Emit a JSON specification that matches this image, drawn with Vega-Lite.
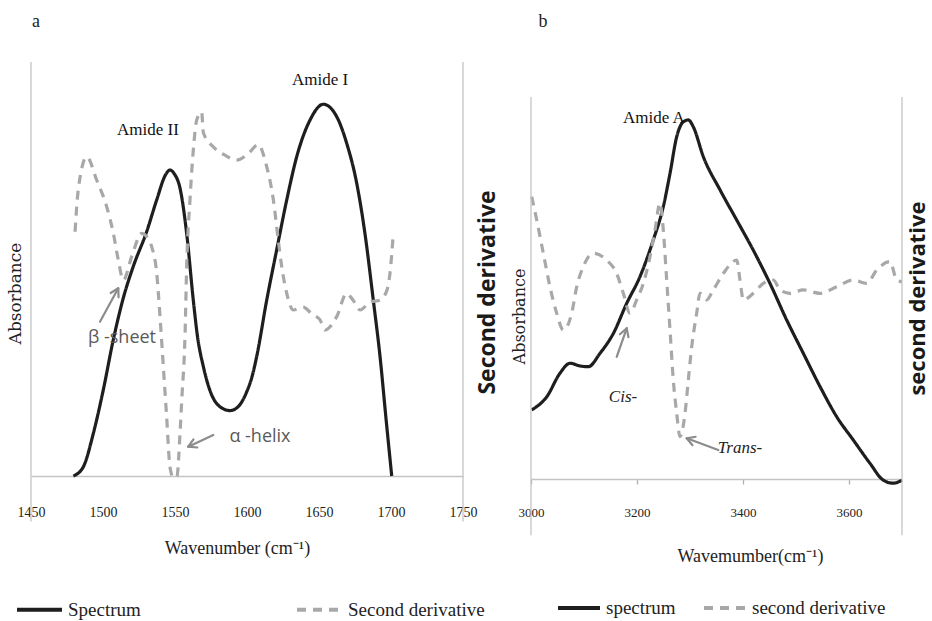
{
  "$schema": "https://vega.github.io/schema/vega-lite/v6.json",
  "width": 932,
  "height": 621,
  "autosize": {"type": "none"},
  "padding": 0,
  "background": "white",
  "config": {"view": {"stroke": null}, "axis": {"grid": false}},
  "datasets": {
    "specA": [
      {"series": "Spectrum", "wn": 1479.4, "val": 0},
      {"series": "Spectrum", "wn": 1486.3, "val": 0.022},
      {"series": "Spectrum", "wn": 1493.3, "val": 0.103},
      {"series": "Spectrum", "wn": 1500.2, "val": 0.208},
      {"series": "Spectrum", "wn": 1507.2, "val": 0.33},
      {"series": "Spectrum", "wn": 1514.1, "val": 0.43},
      {"series": "Spectrum", "wn": 1521.0, "val": 0.506},
      {"series": "Spectrum", "wn": 1530.3, "val": 0.59},
      {"series": "Spectrum", "wn": 1537.3, "val": 0.667},
      {"series": "Spectrum", "wn": 1543.5, "val": 0.728},
      {"series": "Spectrum", "wn": 1546.5, "val": 0.739},
      {"series": "Spectrum", "wn": 1549.5, "val": 0.73},
      {"series": "Spectrum", "wn": 1553.5, "val": 0.695},
      {"series": "Spectrum", "wn": 1558.1, "val": 0.586},
      {"series": "Spectrum", "wn": 1562.7, "val": 0.425},
      {"series": "Spectrum", "wn": 1565.5, "val": 0.34},
      {"series": "Spectrum", "wn": 1569.7, "val": 0.264},
      {"series": "Spectrum", "wn": 1575.0, "val": 0.2},
      {"series": "Spectrum", "wn": 1581.0, "val": 0.168},
      {"series": "Spectrum", "wn": 1588.2, "val": 0.158},
      {"series": "Spectrum", "wn": 1594.0, "val": 0.168},
      {"series": "Spectrum", "wn": 1600.0, "val": 0.205},
      {"series": "Spectrum", "wn": 1603.5, "val": 0.24},
      {"series": "Spectrum", "wn": 1606.7, "val": 0.288},
      {"series": "Spectrum", "wn": 1613.7, "val": 0.425},
      {"series": "Spectrum", "wn": 1620.6, "val": 0.546},
      {"series": "Spectrum", "wn": 1627.6, "val": 0.667},
      {"series": "Spectrum", "wn": 1634.5, "val": 0.771},
      {"series": "Spectrum", "wn": 1643.8, "val": 0.86},
      {"series": "Spectrum", "wn": 1653.0, "val": 0.898},
      {"series": "Spectrum", "wn": 1662.3, "val": 0.868},
      {"series": "Spectrum", "wn": 1669.2, "val": 0.804},
      {"series": "Spectrum", "wn": 1676.2, "val": 0.707},
      {"series": "Spectrum", "wn": 1681.9, "val": 0.586},
      {"series": "Spectrum", "wn": 1687.7, "val": 0.425},
      {"series": "Spectrum", "wn": 1692.4, "val": 0.288},
      {"series": "Spectrum", "wn": 1696.5, "val": 0.14},
      {"series": "Spectrum", "wn": 1700.5, "val": 0},
      {"series": "Second derivative", "wn": 1480.6, "val": 0.59},
      {"series": "Second derivative", "wn": 1482.8, "val": 0.691},
      {"series": "Second derivative", "wn": 1488.7, "val": 0.771},
      {"series": "Second derivative", "wn": 1495.6, "val": 0.715},
      {"series": "Second derivative", "wn": 1502.6, "val": 0.65},
      {"series": "Second derivative", "wn": 1507.2, "val": 0.586},
      {"series": "Second derivative", "wn": 1510.6, "val": 0.522},
      {"series": "Second derivative", "wn": 1514.1, "val": 0.473},
      {"series": "Second derivative", "wn": 1519.9, "val": 0.53},
      {"series": "Second derivative", "wn": 1526.9, "val": 0.586},
      {"series": "Second derivative", "wn": 1529.9, "val": 0.58},
      {"series": "Second derivative", "wn": 1533.8, "val": 0.554},
      {"series": "Second derivative", "wn": 1537.3, "val": 0.49},
      {"series": "Second derivative", "wn": 1539.6, "val": 0.385},
      {"series": "Second derivative", "wn": 1541.9, "val": 0.264},
      {"series": "Second derivative", "wn": 1544.2, "val": 0.143},
      {"series": "Second derivative", "wn": 1546.5, "val": 0.022},
      {"series": "Second derivative", "wn": 1549.0, "val": -0.005},
      {"series": "Second derivative", "wn": 1551.4, "val": 0},
      {"series": "Second derivative", "wn": 1553.5, "val": 0.104},
      {"series": "Second derivative", "wn": 1554.7, "val": 0.184},
      {"series": "Second derivative", "wn": 1557.0, "val": 0.345},
      {"series": "Second derivative", "wn": 1558.1, "val": 0.506},
      {"series": "Second derivative", "wn": 1560.4, "val": 0.667},
      {"series": "Second derivative", "wn": 1562.7, "val": 0.787},
      {"series": "Second derivative", "wn": 1565.1, "val": 0.86},
      {"series": "Second derivative", "wn": 1568.5, "val": 0.879},
      {"series": "Second derivative", "wn": 1569.7, "val": 0.829},
      {"series": "Second derivative", "wn": 1576.6, "val": 0.795},
      {"series": "Second derivative", "wn": 1584.7, "val": 0.775},
      {"series": "Second derivative", "wn": 1592.8, "val": 0.763},
      {"series": "Second derivative", "wn": 1600.7, "val": 0.778},
      {"series": "Second derivative", "wn": 1607.8, "val": 0.8},
      {"series": "Second derivative", "wn": 1613.7, "val": 0.747},
      {"series": "Second derivative", "wn": 1618.3, "val": 0.667},
      {"series": "Second derivative", "wn": 1621.7, "val": 0.57},
      {"series": "Second derivative", "wn": 1624.1, "val": 0.506},
      {"series": "Second derivative", "wn": 1627.6, "val": 0.441},
      {"series": "Second derivative", "wn": 1632.2, "val": 0.401},
      {"series": "Second derivative", "wn": 1639.1, "val": 0.408},
      {"series": "Second derivative", "wn": 1645.1, "val": 0.391},
      {"series": "Second derivative", "wn": 1650.7, "val": 0.377},
      {"series": "Second derivative", "wn": 1654.2, "val": 0.353},
      {"series": "Second derivative", "wn": 1662.3, "val": 0.385},
      {"series": "Second derivative", "wn": 1669.2, "val": 0.441},
      {"series": "Second derivative", "wn": 1673.6, "val": 0.425},
      {"series": "Second derivative", "wn": 1678.5, "val": 0.401},
      {"series": "Second derivative", "wn": 1685.4, "val": 0.42},
      {"series": "Second derivative", "wn": 1692.4, "val": 0.425},
      {"series": "Second derivative", "wn": 1697.2, "val": 0.449},
      {"series": "Second derivative", "wn": 1699.3, "val": 0.49},
      {"series": "Second derivative", "wn": 1701.6, "val": 0.586}
    ],
    "specB": [
      {"series": "spectrum", "wn": 3001.3, "val": 0.181},
      {"series": "spectrum", "wn": 3029.6, "val": 0.215},
      {"series": "spectrum", "wn": 3054.7, "val": 0.277},
      {"series": "spectrum", "wn": 3073.6, "val": 0.303},
      {"series": "spectrum", "wn": 3092.5, "val": 0.296},
      {"series": "spectrum", "wn": 3108.1, "val": 0.294},
      {"series": "spectrum", "wn": 3130.2, "val": 0.329},
      {"series": "spectrum", "wn": 3155.3, "val": 0.381},
      {"series": "spectrum", "wn": 3180.6, "val": 0.46},
      {"series": "spectrum", "wn": 3205.7, "val": 0.53},
      {"series": "spectrum", "wn": 3230.8, "val": 0.626},
      {"series": "spectrum", "wn": 3249.6, "val": 0.713},
      {"series": "spectrum", "wn": 3262.3, "val": 0.8},
      {"series": "spectrum", "wn": 3274.9, "val": 0.896},
      {"series": "spectrum", "wn": 3287.4, "val": 0.935},
      {"series": "spectrum", "wn": 3296.8, "val": 0.94},
      {"series": "spectrum", "wn": 3306.2, "val": 0.922},
      {"series": "spectrum", "wn": 3325.1, "val": 0.844},
      {"series": "spectrum", "wn": 3356.6, "val": 0.757},
      {"series": "spectrum", "wn": 3388.1, "val": 0.678},
      {"series": "spectrum", "wn": 3419.4, "val": 0.599},
      {"series": "spectrum", "wn": 3450.9, "val": 0.512},
      {"series": "spectrum", "wn": 3482.5, "val": 0.416},
      {"series": "spectrum", "wn": 3513.8, "val": 0.329},
      {"series": "spectrum", "wn": 3545.3, "val": 0.242},
      {"series": "spectrum", "wn": 3576.8, "val": 0.163},
      {"series": "spectrum", "wn": 3608.1, "val": 0.102},
      {"series": "spectrum", "wn": 3639.6, "val": 0.041},
      {"series": "spectrum", "wn": 3664.7, "val": -0.003},
      {"series": "spectrum", "wn": 3683.6, "val": -0.011},
      {"series": "spectrum", "wn": 3700.0, "val": -0.003},
      {"series": "second derivative", "wn": 3001.3, "val": 0.739},
      {"series": "second derivative", "wn": 3010.8, "val": 0.678},
      {"series": "second derivative", "wn": 3023.2, "val": 0.591},
      {"series": "second derivative", "wn": 3035.8, "val": 0.503},
      {"series": "second derivative", "wn": 3048.5, "val": 0.434},
      {"series": "second derivative", "wn": 3060.9, "val": 0.39},
      {"series": "second derivative", "wn": 3076.8, "val": 0.434},
      {"series": "second derivative", "wn": 3086.2, "val": 0.503},
      {"series": "second derivative", "wn": 3098.7, "val": 0.556},
      {"series": "second derivative", "wn": 3117.5, "val": 0.591},
      {"series": "second derivative", "wn": 3142.8, "val": 0.573},
      {"series": "second derivative", "wn": 3161.7, "val": 0.538},
      {"series": "second derivative", "wn": 3174.2, "val": 0.486},
      {"series": "second derivative", "wn": 3186.8, "val": 0.434},
      {"series": "second derivative", "wn": 3199.4, "val": 0.469},
      {"series": "second derivative", "wn": 3211.9, "val": 0.512},
      {"series": "second derivative", "wn": 3224.5, "val": 0.582},
      {"series": "second derivative", "wn": 3234.0, "val": 0.652},
      {"series": "second derivative", "wn": 3243.4, "val": 0.722},
      {"series": "second derivative", "wn": 3249.6, "val": 0.652},
      {"series": "second derivative", "wn": 3256.0, "val": 0.521},
      {"series": "second derivative", "wn": 3262.3, "val": 0.39},
      {"series": "second derivative", "wn": 3268.5, "val": 0.259},
      {"series": "second derivative", "wn": 3274.9, "val": 0.172},
      {"series": "second derivative", "wn": 3281.1, "val": 0.111},
      {"series": "second derivative", "wn": 3290.6, "val": 0.172},
      {"series": "second derivative", "wn": 3296.8, "val": 0.259},
      {"series": "second derivative", "wn": 3303.2, "val": 0.346},
      {"series": "second derivative", "wn": 3312.6, "val": 0.434},
      {"series": "second derivative", "wn": 3318.9, "val": 0.486},
      {"series": "second derivative", "wn": 3331.5, "val": 0.469},
      {"series": "second derivative", "wn": 3344.0, "val": 0.495},
      {"series": "second derivative", "wn": 3362.8, "val": 0.538},
      {"series": "second derivative", "wn": 3388.1, "val": 0.573},
      {"series": "second derivative", "wn": 3394.3, "val": 0.521},
      {"series": "second derivative", "wn": 3400.6, "val": 0.469},
      {"series": "second derivative", "wn": 3419.4, "val": 0.486},
      {"series": "second derivative", "wn": 3438.3, "val": 0.512},
      {"series": "second derivative", "wn": 3457.2, "val": 0.521},
      {"series": "second derivative", "wn": 3469.8, "val": 0.495},
      {"series": "second derivative", "wn": 3488.7, "val": 0.486},
      {"series": "second derivative", "wn": 3513.8, "val": 0.495},
      {"series": "second derivative", "wn": 3545.3, "val": 0.486},
      {"series": "second derivative", "wn": 3576.8, "val": 0.503},
      {"series": "second derivative", "wn": 3608.1, "val": 0.521},
      {"series": "second derivative", "wn": 3633.4, "val": 0.512},
      {"series": "second derivative", "wn": 3652.3, "val": 0.547},
      {"series": "second derivative", "wn": 3677.4, "val": 0.569},
      {"series": "second derivative", "wn": 3690.0, "val": 0.521},
      {"series": "second derivative", "wn": 3700.0, "val": 0.516}
    ],
    "frameA": [{"wn": 1450, "val": -0.11, "val2": 1}, {"wn": 1750, "val": -0.11, "val2": 1}],
    "frameB": [{"wn": 3000, "val": -0.147, "val2": 1}, {"wn": 3700, "val": -0.147, "val2": 1}],
    "arrowsA": [
      {"wn": 1497.9, "val": 0.3727, "wn2": 1510.6, "val2": 0.4534},
      {"wn": 1505.3, "val": 0.442, "wn2": 1510.6, "val2": 0.4534},
      {"wn": 1510.8, "val": 0.4316, "wn2": 1510.6, "val2": 0.4534},
      {"wn": 1576.6, "val": 0.099, "wn2": 1559.2, "val2": 0.0708},
      {"wn": 1565.5, "val": 0.0688, "wn2": 1559.2, "val2": 0.0708},
      {"wn": 1562.8, "val": 0.0886, "wn2": 1559.2, "val2": 0.0708}
    ],
    "arrowsB": [
      {"wn": 3161.7, "val": 0.32, "wn2": 3180.6, "val2": 0.3945},
      {"wn": 3167.7, "val": 0.379, "wn2": 3180.6, "val2": 0.3945},
      {"wn": 3183.8, "val": 0.3715, "wn2": 3180.6, "val2": 0.3945},
      {"wn": 3353.4, "val": 0.0759, "wn2": 3293.8, "val2": 0.1065},
      {"wn": 3304.7, "val": 0.0885, "wn2": 3293.8, "val2": 0.1065},
      {"wn": 3310.6, "val": 0.1105, "wn2": 3293.8, "val2": 0.1065}
    ],
    "panelA": [{"wn": 1453.5, "val": 1.097, "text": "a"}],
    "panelB": [{"wn": 3022.6, "val": 1.196, "text": "b"}],
    "peaksA": [{"wn": 1650.7, "val": 0.957, "text": "Amide I"}, {"wn": 1531.2, "val": 0.836, "text": "Amide II"}],
    "peaksB": [{"wn": 3232.0, "val": 0.945, "text": "Amide A"}],
    "structA": [{"wn": 1513.2, "val": 0.333, "text": "β -sheet"}, {"wn": 1609.0, "val": 0.094, "text": "α -helix"}],
    "isoB": [{"wn": 3173.6, "val": 0.215, "text": "Cis-"}, {"wn": 3394.3, "val": 0.081, "text": "Trans-"}]
  },
  "layer": [
    {
      "layer": [
        {
          "layer": [
            {
              "data": {"name": "specA"},
              "mark": {"type": "line", "strokeWidth": 3.2, "strokeCap": "butt", "interpolate": "monotone"},
              "encoding": {
                "x": {
                  "field": "wn", "type": "quantitative",
                  "scale": {"domain": [1450, 1750], "range": [31, 463], "nice": false, "zero": false},
                  "axis": {
                    "orient": "bottom", "offset": -145, "values": [1450, 1500, 1550, 1600, 1650, 1700, 1750],
                    "format": "d",
                    "domain": true, "domainColor": "#c4c4c4", "domainWidth": 1.3, "ticks": false,
                    "labelPadding": 29, "labelFlush": false, "labelOverlap": false,
                    "labelFont": "Liberation Serif", "labelFontSize": 14, "labelColor": "#222222",
                    "title": "Wavenumber (cm⁻¹)", "titleFont": "Liberation Serif", "titleFontSize": 18,
                    "titleFontWeight": "normal", "titleColor": "#222222", "titleX": 237, "titleY": 72,
                    "titleAlign": "center", "titleBaseline": "middle"
                  }
                },
                "y": {
                  "field": "val", "type": "quantitative",
                  "scale": {"domain": [0, 1], "range": [476, 62], "nice": false, "zero": false},
                  "axis": {
                    "orient": "left", "offset": -31, "domain": false, "ticks": false, "labels": false,
                    "title": "Absorbance", "titleX": -16, "titleY": 293, "titleAngle": -90,
                    "titleFont": "DejaVu Serif", "titleFontSize": 17, "titleFontWeight": "normal",
                    "titleColor": "#222222", "titleAlign": "center", "titleBaseline": "middle"
                  }
                },
                "color": {
                  "field": "series", "type": "nominal",
                  "scale": {"domain": ["Spectrum", "Second derivative"], "range": ["#1e1e1e", "#a8a8a8"]},
                  "legend": {
                    "orient": "none", "legendX": 15, "legendY": 585, "direction": "horizontal", "title": null,
                    "symbolType": "stroke", "symbolSize": 2025, "symbolStrokeWidth": 4,
                    "labelFont": "Liberation Serif", "labelFontSize": 19, "labelColor": "#222222",
                    "labelOffset": 4, "columnPadding": 148
                  }
                },
                "strokeDash": {
                  "field": "series", "type": "nominal",
                  "scale": {"domain": ["Spectrum", "Second derivative"], "range": [[1, 0], [9, 7]]},
                  "legend": {
                    "orient": "none", "legendX": 15, "legendY": 585, "direction": "horizontal", "title": null,
                    "symbolType": "stroke", "symbolSize": 2025, "symbolStrokeWidth": 4,
                    "labelFont": "Liberation Serif", "labelFontSize": 19, "labelColor": "#222222",
                    "labelOffset": 4, "columnPadding": 148
                  }
                }
              }
            },
            {
              "data": {"name": "arrowsA"},
              "mark": {"type": "rule", "color": "#8c8c8c", "strokeWidth": 2.2, "strokeCap": "round"},
              "encoding": {
                "x": {"field": "wn", "type": "quantitative"},
                "y": {"field": "val", "type": "quantitative"},
                "x2": {"field": "wn2"},
                "y2": {"field": "val2"}
              }
            },
            {
              "data": {"name": "panelA"},
              "mark": {"type": "text", "font": "Liberation Serif", "fontSize": 18, "color": "#222222", "align": "center", "baseline": "middle"},
              "encoding": {"x": {"field": "wn", "type": "quantitative"}, "y": {"field": "val", "type": "quantitative"}, "text": {"field": "text"}}
            },
            {
              "data": {"name": "peaksA"},
              "mark": {"type": "text", "font": "Liberation Serif", "fontSize": 17, "color": "#111111", "align": "center", "baseline": "middle"},
              "encoding": {"x": {"field": "wn", "type": "quantitative"}, "y": {"field": "val", "type": "quantitative"}, "text": {"field": "text"}}
            },
            {
              "data": {"name": "structA"},
              "mark": {"type": "text", "font": "Open Sans", "fontSize": 18, "color": "#5a5a5a", "align": "center", "baseline": "middle"},
              "encoding": {"x": {"field": "wn", "type": "quantitative"}, "y": {"field": "val", "type": "quantitative"}, "text": {"field": "text"}}
            }
          ]
        },
        {
          "data": {"name": "frameA"},
          "mark": {"type": "rule", "color": "#c4c4c4", "strokeWidth": 1.3},
          "encoding": {
            "x": {"field": "wn", "type": "quantitative"},
            "y": {
              "field": "val", "type": "quantitative",
              "scale": {"domain": [0, 1], "range": [476, 62], "nice": false, "zero": false},
              "axis": {
                "orient": "right", "offset": -467, "domain": false, "ticks": false, "labels": false,
                "title": "Second derivative", "titleX": 22, "titleY": 292, "titleAngle": -90,
                "titleFont": "Open Sans", "titleFontSize": 23, "titleFontWeight": "bold",
                "titleColor": "#1a1a1a", "titleAlign": "center", "titleBaseline": "middle"
              }
            },
            "y2": {"field": "val2"}
          }
        }
      ],
      "resolve": {"scale": {"y": "independent"}, "axis": {"y": "independent"}}
    },
    {
      "layer": [
        {
          "layer": [
            {
              "data": {"name": "specB"},
              "mark": {"type": "line", "strokeWidth": 3.2, "strokeCap": "butt", "interpolate": "monotone"},
              "encoding": {
                "x": {
                  "field": "wn", "type": "quantitative",
                  "scale": {"domain": [3000, 3700], "range": [531, 902], "nice": false, "zero": false},
                  "axis": {
                    "orient": "bottom", "offset": -142, "values": [3000, 3200, 3400, 3600],
                    "format": "d",
                    "domain": true, "domainColor": "#c4c4c4", "domainWidth": 1.3, "ticks": true,
                    "tickColor": "#b0b0b0", "tickSize": 5, "tickWidth": 1.3,
                    "labelPadding": 22, "labelFlush": false, "labelOverlap": false,
                    "labelFont": "Liberation Serif", "labelFontSize": 13, "labelColor": "#222222",
                    "title": "Wavemumber(cm⁻¹)", "titleFont": "Liberation Serif", "titleFontSize": 18,
                    "titleFontWeight": "normal", "titleColor": "#222222", "titleX": 750, "titleY": 77,
                    "titleAlign": "center", "titleBaseline": "middle"
                  }
                },
                "y": {
                  "field": "val", "type": "quantitative",
                  "scale": {"domain": [0, 1], "range": [479, 97], "nice": false, "zero": false},
                  "axis": {
                    "orient": "left", "offset": -531, "domain": false, "ticks": false, "labels": false,
                    "title": "Absorbance", "titleX": -12, "titleY": 316, "titleAngle": -90,
                    "titleFont": "DejaVu Serif", "titleFontSize": 16, "titleFontWeight": "normal",
                    "titleColor": "#222222", "titleAlign": "center", "titleBaseline": "middle"
                  }
                },
                "color": {
                  "field": "series", "type": "nominal",
                  "scale": {"domain": ["spectrum", "second derivative"], "range": ["#1e1e1e", "#a8a8a8"]},
                  "legend": {
                    "orient": "none", "legendX": 556, "legendY": 585, "direction": "horizontal", "title": null,
                    "symbolType": "stroke", "symbolSize": 1764, "symbolStrokeWidth": 4,
                    "labelFont": "Liberation Serif", "labelFontSize": 19, "labelColor": "#222222",
                    "labelOffset": 4, "columnPadding": 20
                  }
                },
                "strokeDash": {
                  "field": "series", "type": "nominal",
                  "scale": {"domain": ["spectrum", "second derivative"], "range": [[1, 0], [9, 7]]},
                  "legend": {
                    "orient": "none", "legendX": 556, "legendY": 585, "direction": "horizontal", "title": null,
                    "symbolType": "stroke", "symbolSize": 1764, "symbolStrokeWidth": 4,
                    "labelFont": "Liberation Serif", "labelFontSize": 19, "labelColor": "#222222",
                    "labelOffset": 4, "columnPadding": 20
                  }
                }
              }
            },
            {
              "data": {"name": "arrowsB"},
              "mark": {"type": "rule", "color": "#8c8c8c", "strokeWidth": 2.2, "strokeCap": "round"},
              "encoding": {
                "x": {"field": "wn", "type": "quantitative"},
                "y": {"field": "val", "type": "quantitative"},
                "x2": {"field": "wn2"},
                "y2": {"field": "val2"}
              }
            },
            {
              "data": {"name": "panelB"},
              "mark": {"type": "text", "font": "Liberation Serif", "fontSize": 18, "color": "#222222", "align": "center", "baseline": "middle"},
              "encoding": {"x": {"field": "wn", "type": "quantitative"}, "y": {"field": "val", "type": "quantitative"}, "text": {"field": "text"}}
            },
            {
              "data": {"name": "peaksB"},
              "mark": {"type": "text", "font": "Liberation Serif", "fontSize": 17, "color": "#111111", "align": "center", "baseline": "middle"},
              "encoding": {"x": {"field": "wn", "type": "quantitative"}, "y": {"field": "val", "type": "quantitative"}, "text": {"field": "text"}}
            },
            {
              "data": {"name": "isoB"},
              "mark": {"type": "text", "font": "Liberation Serif", "fontSize": 17, "fontStyle": "italic", "color": "#222222", "align": "center", "baseline": "middle"},
              "encoding": {"x": {"field": "wn", "type": "quantitative"}, "y": {"field": "val", "type": "quantitative"}, "text": {"field": "text"}}
            }
          ]
        },
        {
          "data": {"name": "frameB"},
          "mark": {"type": "rule", "color": "#c4c4c4", "strokeWidth": 1.3},
          "encoding": {
            "x": {"field": "wn", "type": "quantitative"},
            "y": {
              "field": "val", "type": "quantitative",
              "scale": {"domain": [0, 1], "range": [479, 97], "nice": false, "zero": false},
              "axis": {
                "orient": "right", "offset": -30, "domain": false, "ticks": false, "labels": false,
                "title": "second derivative", "titleX": 15, "titleY": 298, "titleAngle": -90,
                "titleFont": "Open Sans", "titleFontSize": 22, "titleFontWeight": "bold",
                "titleColor": "#1a1a1a", "titleAlign": "center", "titleBaseline": "middle"
              }
            },
            "y2": {"field": "val2"}
          }
        }
      ],
      "resolve": {"scale": {"y": "independent"}, "axis": {"y": "independent"}}
    }
  ],
  "resolve": {
    "scale": {"x": "independent", "y": "independent", "color": "independent", "strokeDash": "independent"},
    "axis": {"x": "independent", "y": "independent"},
    "legend": {"color": "independent", "strokeDash": "independent"}
  }
}
